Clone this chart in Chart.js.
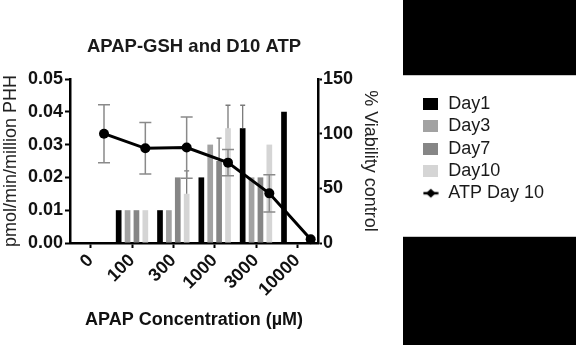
<!DOCTYPE html>
<html>
<head>
<meta charset="utf-8">
<script src="https://cdn.jsdelivr.net/npm/chart.js@4.4.1/dist/chart.umd.min.js"></script>
<style>
html,body{margin:0;padding:0;background:#fff;}
canvas{display:block;}
</style>
</head>
<body>
<canvas id="c" width="576" height="345"></canvas>
<script>
// ---- data ----
const categories = ['0', '100', '300', '1000', '3000', '10000'];
const day1  = [0, 0.01, 0.01, 0.02, 0.035, 0.04];
const day3  = [0, 0.01, 0.01, 0.03, 0.02, 0];
const day7  = [0, 0.01, 0.02, 0.025, 0.02, 0];
const day10 = [0, 0.01, 0.015, 0.035, 0.03, 0];
const day1Err  = [0, 0, 0, 0, 0.007, 0];
const day3Err  = [0, 0, 0, 0, 0, 0];
const day7Err  = [0, 0, 0, 0.007, 0, 0];
const day10Err = [0, 0, 0.007, 0.007, 0, 0];
const atpDay10    = [100, 86.6, 87.3, 73.5, 45.4, 3.5];
const atpDay10Err = [26.5, 23.5, 28, 12, 17, 0];
const leftTicks  = [0, 0.01, 0.02, 0.03, 0.04, 0.05];
const rightTicks = [0, 50, 100, 150];

// ---- styling / layout constants ----
const FONT = "'Liberation Sans', Arial, Helvetica, sans-serif";
Chart.defaults.font.family = FONT;
const colors = { day1: '#000000', day3: '#a2a2a2', day7: '#868686', day10: '#d5d5d5', line: '#000000' };
const groupWidth = 0.86;                 // share of a category used by the 4 bars
const slot = groupWidth / 4;             // one bar slot, in category units
const slotCenter = k => (k - 1.5) * slot; // slot k centre relative to the category
const lineSlot = 3;                       // ATP points sit at the Day10 slot (GraphPad style)

function swatch(color) {
  const c = document.createElement('canvas');
  c.width = 15; c.height = 12;
  const g = c.getContext('2d');
  g.fillStyle = color; g.fillRect(0, 0, 15, 12);
  return c;
}
function lineSwatch() {
  const c = document.createElement('canvas');
  c.width = 16; c.height = 12;
  const g = c.getContext('2d');
  g.strokeStyle = '#000'; g.lineWidth = 2.5;
  g.beginPath(); g.moveTo(0.5, 6); g.lineTo(15.5, 6); g.stroke();
  g.fillStyle = '#000';
  g.beginPath(); g.moveTo(8, 1.5); g.lineTo(12.8, 6); g.lineTo(8, 10.5); g.lineTo(3.2, 6); g.closePath(); g.fill();
  return c;
}
const swatches = [swatch(colors.day1), swatch(colors.day3), swatch(colors.day7), swatch(colors.day10), lineSwatch()];

const backdrop = {
  id: 'backdrop',
  beforeDraw(chart) {
    const { ctx, width, height } = chart;
    ctx.save();
    ctx.fillStyle = '#fff';
    ctx.fillRect(0, 0, width, height);
    ctx.fillStyle = '#000';
    ctx.fillRect(403, 0, width - 403, 75);
    ctx.fillRect(403, 237, width - 403, height - 237);
    ctx.fillStyle = '#c8c8c8';
    ctx.fillRect(403, 75, width - 403, 1);
    ctx.fillRect(403, 236, width - 403, 1);
    ctx.restore();
  }
};

const legendPlace = {
  id: 'legendPlace',
  afterLayout(chart) {
    const lg = chart.legend;
    if (!lg) return;
    lg.left = 418; lg.right = lg.left + lg.width;
    lg.top = 90.7; lg.bottom = 345;
  }
};

const barErrs = [day1Err, day3Err, day7Err, day10Err];
const barVals = [day1, day3, day7, day10];
const errorBars = {
  id: 'errorBars',
  beforeDatasetDraw(chart, args) {
    if (args.index !== 4) return;
    const ctx = chart.ctx;
    const ys = chart.scales.y, y1s = chart.scales.y1;
    ctx.save();
    ctx.strokeStyle = '#7a7a7a';
    ctx.lineWidth = 1.3;
    barErrs.forEach((errs, di) => {
      const meta = chart.getDatasetMeta(di);
      meta.data.forEach((bar, j) => {
        const e = errs[j];
        if (!e) return;
        const top = ys.getPixelForValue(barVals[di][j] + e);
        ctx.beginPath();
        ctx.moveTo(bar.x, bar.y); ctx.lineTo(bar.x, top);
        ctx.moveTo(bar.x - 2.5, top); ctx.lineTo(bar.x + 2.5, top);
        ctx.stroke();
      });
    });
    ctx.strokeStyle = '#8a8a8a';
    ctx.lineWidth = 1.5;
    const lm = chart.getDatasetMeta(4);
    lm.data.forEach((pt, j) => {
      const e = atpDay10Err[j];
      if (!e) return;
      const hi = y1s.getPixelForValue(atpDay10[j] + e);
      const lo = y1s.getPixelForValue(atpDay10[j] - e);
      ctx.beginPath();
      ctx.moveTo(pt.x, hi); ctx.lineTo(pt.x, lo);
      ctx.moveTo(pt.x - 6, hi); ctx.lineTo(pt.x + 6, hi);
      ctx.moveTo(pt.x - 6, lo); ctx.lineTo(pt.x + 6, lo);
      ctx.stroke();
    });
    ctx.restore();
  }
};

const barDs = (label, values, k, color) => ({
  type: 'bar', label,
  data: values.map((v, i) => ({ x: i + slotCenter(k), y: v })),
  backgroundColor: color, borderWidth: 0,
  xAxisID: 'x', yAxisID: 'y', order: 1,
  grouped: false, categoryPercentage: 1, barPercentage: 0.64
});

const datasets = [
  barDs('Day1', day1, 0, colors.day1),
  barDs('Day3', day3, 1, colors.day3),
  barDs('Day7', day7, 2, colors.day7),
  barDs('Day10', day10, 3, colors.day10),
  {
    type: 'line', label: 'ATP Day 10',
    data: atpDay10.map((v, i) => ({ x: i + slotCenter(lineSlot), y: v })),
    xAxisID: 'x', yAxisID: 'y1', order: 0,
    borderColor: colors.line, backgroundColor: colors.line, borderWidth: 3,
    pointRadius: 5, pointBackgroundColor: colors.line, pointBorderWidth: 0,
    tension: 0, clip: false
  }
];

const axisBorder = { display: true, color: '#000', width: 2.5 };
const tickFont = { size: 18, weight: 'bold', family: FONT };

new Chart(document.getElementById('c'), {
  type: 'bar',
  data: { datasets },
  options: {
    responsive: false,
    animation: false,
    devicePixelRatio: 1,
    layout: { padding: { left: 0, right: 30, top: 0, bottom: 0 } },
    plugins: {
      title: {
        display: true, text: 'APAP-GSH and D10 ATP', fullSize: false,
        font: { size: 18.5, weight: 'bold', family: FONT }, color: '#1a1a1a',
        padding: { top: 35.7, bottom: 21.1 }
      },
      legend: {
        display: true, position: 'right', align: 'start', maxWidth: 220,
        labels: {
          usePointStyle: true, pointStyleWidth: 17, padding: 4.3,
          font: { size: 18, family: FONT }, color: '#1a1a1a',
          generateLabels(chart) {
            return chart.data.datasets.map((ds, i) => ({
              text: ds.label, datasetIndex: i, pointStyle: swatches[i],
              fillStyle: ds.backgroundColor, strokeStyle: 'rgba(0,0,0,0)', lineWidth: 0,
              hidden: false, fontColor: '#1a1a1a'
            }));
          }
        }
      },
      tooltip: { enabled: false }
    },
    scales: {
      x: {
        type: 'linear', position: 'bottom', offset: false, bounds: 'data',
        min: -0.5, max: categories.length - 0.5,
        border: axisBorder,
        grid: { drawOnChartArea: false, offset: false, tickLength: 5, tickColor: '#000', tickWidth: 2 },
        afterBuildTicks(s) { s.ticks = categories.map((c, i) => ({ value: i })); },
        ticks: {
          autoSkip: false, minRotation: 45, maxRotation: 45, padding: 2, font: tickFont, color: '#111',
          callback: (v, i) => categories[i]
        },
        title: { display: true, text: 'APAP Concentration (µM)', font: tickFont, color: '#111', padding: { top: 0, bottom: 14 } },
        afterFit(s) { s.height = 102; }
      },
      y: {
        position: 'left', min: 0, max: 0.05,
        border: axisBorder,
        grid: { drawOnChartArea: false, tickLength: 5, tickColor: '#000', tickWidth: 2 },
        afterBuildTicks(s) { s.ticks = leftTicks.map(v => ({ value: v })); },
        ticks: { padding: 2, font: tickFont, color: '#111', callback: v => Number(v).toFixed(2) },
        title: { display: true, text: 'pmol/min/million PHH', font: { size: 18, family: FONT }, color: '#222', padding: { top: 0, bottom: 0 } },
        afterFit(s) { s.width = 70; }
      },
      y1: {
        position: 'right', min: 0, max: 150,
        border: axisBorder,
        grid: { drawOnChartArea: false, tickLength: 4, tickColor: '#000', tickWidth: 2 },
        afterBuildTicks(s) { s.ticks = rightTicks.map(v => ({ value: v })); },
        ticks: { padding: 1, font: tickFont, color: '#111' },
        title: { display: true, text: '% Viability control', font: { size: 18, family: FONT }, color: '#222', padding: { top: 29, bottom: 0 } },
        afterFit(s) { s.width = 576 - 30 - s.chart.legend.width - 318; }
      }
    }
  },
  plugins: [backdrop, legendPlace, errorBars]
});
</script>
</body>
</html>
